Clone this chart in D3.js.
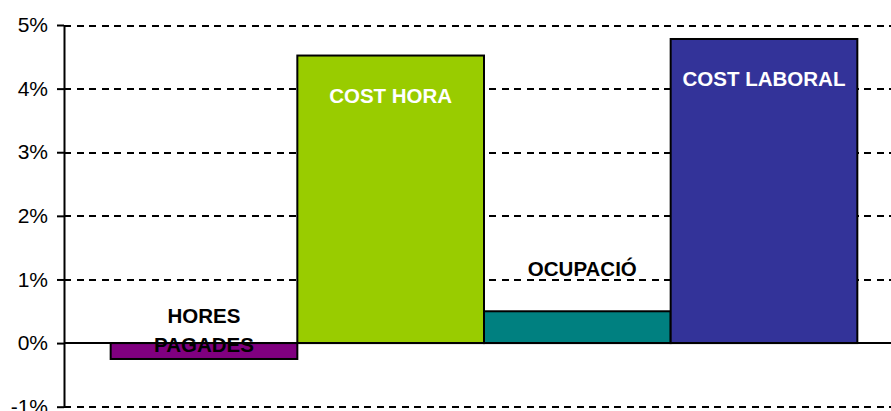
<!DOCTYPE html>
<html>
<head>
<meta charset="utf-8">
<script src="https://cdn.jsdelivr.net/npm/d3@7"></script>
<style>
  body { margin: 0; background: #fff; }
  svg { display: block; font-family: "Liberation Sans", Arial, sans-serif; }
</style>
</head>
<body>
<svg></svg>
<script>
const categories = ['HORES PAGADES', 'COST HORA', 'OCUPACIÓ', 'COST LABORAL'];
const values = [-0.25, 4.52, 0.5, 4.78];
const labelLines = [['HORES', 'PAGADES'], ['COST HORA'], ['OCUPACIÓ'], ['COST LABORAL']];
const tickValues = [-1, 0, 1, 2, 3, 4, 5];

const colors = ['#800080', '#99cc00', '#008080', '#333399'];

const W = 891, H = 411;
const axisX = 64;

const svg = d3.select('svg')
    .attr('width', W)
    .attr('height', H);

//--------------SCALES---------------------------------------
const yScale = d3.scaleLinear()
                 .domain([-1, 5])
                 .range([406.7, 25]);

const xScale = d3.scaleBand()
                 .domain(categories)
                 .range([axisX, 904])
                 .paddingInner(0)
                 .paddingOuter(0.25);

//--------------GRID----------------------------------------
const grid = svg.append('g')
    .attr('transform', 'translate(' + axisX + ',0)')
    .call(d3.axisRight(yScale).tickValues(tickValues.filter(t => t !== 0))
            .tickSize(W - axisX).tickFormat(''));
grid.select('.domain').remove();
grid.selectAll('.tick line')
    .attr('stroke', '#000')
    .attr('stroke-width', 2)
    .attr('stroke-dasharray', '7,5.5')
    .attr('shape-rendering', 'crispEdges');

//--------------BARS----------------------------------------
svg.append('g')
  .selectAll('rect')
  .data(values)
  .join('rect')
    .attr('x', (d, i) => xScale(categories[i]))
    .attr('y', d => yScale(Math.max(0, d)))
    .attr('width', xScale.bandwidth())
    .attr('height', d => Math.abs(yScale(d) - yScale(0)))
    .attr('fill', (d, i) => colors[i])
    .attr('stroke', '#000')
    .attr('stroke-width', 2);

// zero line
svg.append('line')
    .attr('x1', axisX).attr('x2', W)
    .attr('y1', yScale(0)).attr('y2', yScale(0))
    .attr('stroke', '#000')
    .attr('stroke-width', 2);

//--------------AXIS----------------------------------------
const yy = d3.axisLeft(yScale)
             .tickValues(tickValues)
             .tickSizeInner(7)
             .tickSizeOuter(0)
             .tickPadding(9)
             .tickFormat(d => d + '%');

const axisY = svg.append('g')
    .attr('transform', 'translate(' + axisX + ',0)')
    .call(yy);
axisY.select('.domain').attr('stroke-width', 2);
axisY.selectAll('.tick line').attr('stroke-width', 2);
axisY.selectAll('.tick text')
    .attr('font-size', 21)
    .attr('font-family', '"Liberation Sans", Arial, sans-serif')
    .attr('fill', '#000');

//--------------LABELS--------------------------------------
const lineH = 29;
const labels = svg.append('g')
    .attr('font-size', 20.5)
    .attr('font-weight', 'bold')
    .attr('text-anchor', 'middle');

values.forEach((v, i) => {
  const cx = xScale(categories[i]) + xScale.bandwidth() / 2;
  const lines = labelLines[i];
  let cy, fill, dx = 0;
  if (v > 2) {
    cy = yScale(v) + 40;
    fill = '#fff';
  } else if (v < 0) {
    cy = yScale(0) + 2 - (lines.length - 1) * lineH;
    fill = '#000';
  } else {
    cy = yScale(v) - 43;
    fill = '#000';
    dx = 5;
  }
  lines.forEach((t, j) => {
    labels.append('text')
        .attr('x', cx + dx)
        .attr('y', cy + j * lineH)
        .attr('dy', '0.36em')
        .attr('fill', fill)
        .text(t);
  });
});
</script>
</body>
</html>
